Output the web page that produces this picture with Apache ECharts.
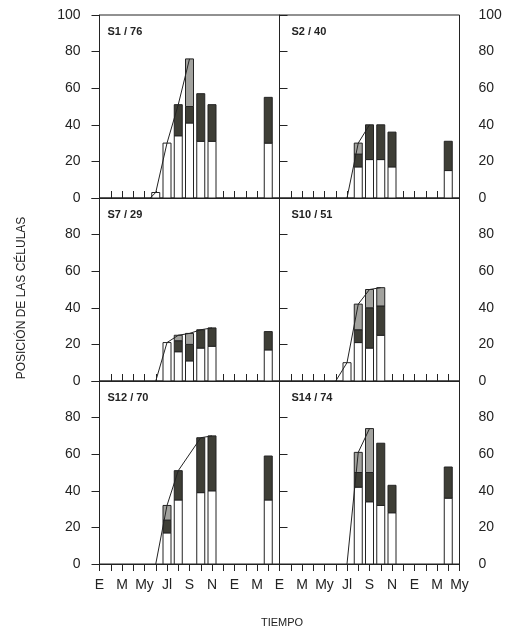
<!DOCTYPE html>
<html>
<head>
<meta charset="utf-8">
<script src="https://cdn.jsdelivr.net/npm/echarts@6/dist/echarts.min.js"></script>
<style>
  html, body { margin: 0; padding: 0; background: #fff; }
  #chart { width: 506px; height: 636px; }
</style>
</head>
<body>
<div id="chart"></div>
<script>
// Month ticks: 16 months per panel, labelled every two months
const monthLabelsLeft  = ['E', 'M', 'My', 'Jl', 'S', 'N', 'E', 'M'];
const monthLabelsRight = ['E', 'M', 'My', 'Jl', 'S', 'N', 'E', 'M', 'My'];
const yTicks = [0, 20, 40, 60, 80, 100];

// Panel titles (tree / maximum)
const panelTitles = ['S1 / 76', 'S2 / 40', 'S7 / 29', 'S10 / 51', 'S12 / 70', 'S14 / 74'];

// Sample month positions and cumulative boundaries of each stacked bar:
// white (0..white), dark (white..darkTop), grey (darkTop..total)
const s1Month   = [5, 6, 7, 8, 9, 10, 15];
const s1White   = [3, 30, 34, 41, 31, 31, 30];
const s1DarkTop = [3, 30, 51, 50, 57, 51, 55];
const s1Total   = [3, 30, 51, 76, 57, 51, 55];
const s1TrendStart = 4.5, s1TrendBars = 4;

const s2Month   = [7, 8, 9, 10, 15];
const s2White   = [17, 21, 21, 17, 15];
const s2DarkTop = [24, 40, 40, 36, 31];
const s2Total   = [30, 40, 40, 36, 31];
const s2TrendStart = 6, s2TrendBars = 2;

const s7Month   = [6, 7, 8, 9, 10, 15];
const s7White   = [21, 16, 11, 18, 19, 17];
const s7DarkTop = [21, 22, 20, 28, 29, 27];
const s7Total   = [21, 25, 26, 28, 29, 27];
const s7TrendStart = 5, s7TrendBars = 5;

const s10Month   = [6, 7, 8, 9];
const s10White   = [10, 21, 18, 25];
const s10DarkTop = [10, 28, 40, 41];
const s10Total   = [10, 42, 50, 51];
const s10TrendStart = 5, s10TrendBars = 4;

const s12Month   = [6, 7, 9, 10, 15];
const s12White   = [17, 35, 39, 40, 35];
const s12DarkTop = [24, 51, 69, 70, 59];
const s12Total   = [32, 51, 69, 70, 59];
const s12TrendStart = 5, s12TrendBars = 4;

const s14Month   = [7, 8, 9, 10, 15];
const s14White   = [42, 34, 32, 28, 36];
const s14DarkTop = [50, 50, 66, 43, 53];
const s14Total   = [61, 74, 66, 43, 53];
const s14TrendStart = 6, s14TrendBars = 2;

const panels = [
  { month: s1Month,  white: s1White,  darkTop: s1DarkTop,  total: s1Total,  trendStart: s1TrendStart,  trendBars: s1TrendBars },
  { month: s2Month,  white: s2White,  darkTop: s2DarkTop,  total: s2Total,  trendStart: s2TrendStart,  trendBars: s2TrendBars },
  { month: s7Month,  white: s7White,  darkTop: s7DarkTop,  total: s7Total,  trendStart: s7TrendStart,  trendBars: s7TrendBars },
  { month: s10Month, white: s10White, darkTop: s10DarkTop, total: s10Total, trendStart: s10TrendStart, trendBars: s10TrendBars },
  { month: s12Month, white: s12White, darkTop: s12DarkTop, total: s12Total, trendStart: s12TrendStart, trendBars: s12TrendBars },
  { month: s14Month, white: s14White, darkTop: s14DarkTop, total: s14Total, trendStart: s14TrendStart, trendBars: s14TrendBars }
];

const INK = '#232323';
const DARK = '#3e3e36';
const GREY = '#a2a29e';
const FONT = 'Liberation Sans, Arial, Helvetica, sans-serif';

const colLeft = [99.5, 279.5];
const colWidth = 180;
const rowTop = [15, 198, 381];
const rowHeight = 183;

const grids = [], xAxes = [], yAxes = [], series = [], graphics = [];

panels.forEach((p, i) => {
  const row = Math.floor(i / 2), col = i % 2;
  grids.push({
    left: colLeft[col], top: rowTop[row], width: colWidth, height: rowHeight,
    show: true, borderColor: INK, borderWidth: 1, backgroundColor: 'transparent'
  });
  const labels = col === 0 ? monthLabelsLeft : monthLabelsRight;
  xAxes.push({
    gridIndex: i, type: 'value', min: 0, max: 16, interval: 1,
    axisLine: { show: true, lineStyle: { color: INK, width: 1 } },
    axisTick: { show: true, inside: row < 2, length: 7, lineStyle: { color: INK, width: 1 } },
    axisLabel: {
      show: row === 2, margin: 14, color: INK, fontSize: 14, fontFamily: FONT,
      formatter: v => (v % 2 === 0 && labels[v / 2] !== undefined) ? labels[v / 2] : ''
    },
    splitLine: { show: false }
  });
  yAxes.push({
    gridIndex: i, type: 'value', min: 0, max: 100, interval: 20,
    position: col === 0 ? 'left' : 'right',
    axisLine: { show: true, lineStyle: { color: INK, width: 1 } },
    axisTick: { show: true, inside: false, length: 8, lineStyle: { color: INK, width: 1 } },
    axisLabel: {
      margin: 19, color: INK, fontSize: 14, fontFamily: FONT,
      formatter: v => (row > 0 && v === 100) ? '' : (yTicks.includes(v) ? String(v) : '')
    },
    splitLine: { show: false }
  });

  const barData = p.month.map((m, k) => [m, p.white[k], p.darkTop[k], p.total[k]]);
  series.push({
    type: 'custom', xAxisIndex: i, yAxisIndex: i, z: 3,
    data: barData,
    renderItem: (params, api) => {
      const x = api.value(0);
      const w = api.value(1), d = api.value(2), t = api.value(3);
      const halfW = 4;
      const base = api.coord([x, 0]);
      const seg = (lo, hi, fill) => {
        const a = api.coord([x, lo]), b = api.coord([x, hi]);
        return {
          type: 'rect',
          shape: { x: base[0] - halfW, y: b[1], width: halfW * 2, height: a[1] - b[1] },
          style: { fill: fill, stroke: INK, lineWidth: 1 }
        };
      };
      const children = [seg(0, w, '#ffffff')];
      if (d > w) children.push(seg(w, d, DARK));
      if (t > d) children.push(seg(d, t, GREY));
      return { type: 'group', children: children };
    }
  });

  const trend = [[p.trendStart, 0]];
  for (let k = 0; k < p.trendBars; k++) trend.push([p.month[k], p.total[k]]);
  series.push({
    type: 'line', xAxisIndex: i, yAxisIndex: i, z: 4,
    data: trend, symbol: 'none', silent: true,
    lineStyle: { color: INK, width: 1 }
  });

  graphics.push({
    type: 'text',
    left: colLeft[col] + (col === 0 ? 8 : 12),
    top: rowTop[row] + 11,
    style: { text: panelTitles[i], font: 'bold 11px ' + FONT, fill: INK }
  });
});

graphics.push({
  type: 'text', x: 22, y: 298, rotation: Math.PI / 2,
  style: { text: 'POSICIÓN DE LAS CÉLULAS', font: '12px ' + FONT, fill: INK, align: 'center', verticalAlign: 'middle' }
});
graphics.push({
  type: 'text', x: 282, y: 623,
  style: { text: 'TIEMPO', font: '11px ' + FONT, fill: INK, align: 'center', verticalAlign: 'middle' }
});

const chart = echarts.init(document.getElementById('chart'), null, { renderer: 'canvas' });
chart.setOption({
  animation: false,
  backgroundColor: '#ffffff',
  grid: grids,
  xAxis: xAxes,
  yAxis: yAxes,
  series: series,
  graphic: graphics
});
</script>
</body>
</html>
